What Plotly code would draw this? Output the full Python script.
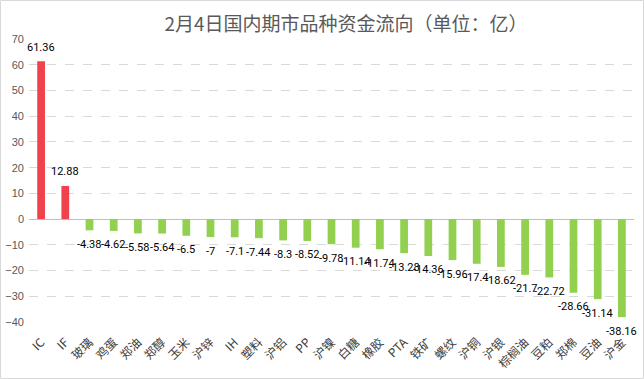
import plotly.graph_objects as go

categories = ["IC", "IF", "玻璃", "鸡蛋", "郑油", "郑醇", "玉米", "沪锌", "IH", "塑料",
              "沪铝", "PP", "沪镍", "白糖", "橡胶", "PTA", "铁矿", "螺纹", "沪铜", "沪银",
              "棕榈油", "豆粕", "郑棉", "豆油", "沪金"]
values = [61.36, 12.88, -4.38, -4.62, -5.58, -5.64, -6.5, -7, -7.1, -7.44,
          -8.3, -8.52, -9.78, -11.14, -11.74, -13.28, -14.36, -15.96, -17.4, -18.62,
          -21.7, -22.72, -28.66, -31.14, -38.16]
y_ticks = [-40, -30, -20, -10, 0, 10, 20, 30, 40, 50, 60, 70]

colors = ["#F0424B" if v > 0 else "#92D050" for v in values]
labels = [f"{v:g}" for v in values]

W, H = 644, 379
ml, mr, mt, mb = 29, 10, 39, 57
pw = W - ml - mr
ph = H - mt - mb

fig = go.Figure(go.Bar(
    x=categories, y=values, marker=dict(color=colors, line=dict(width=0)),
    width=0.32, cliponaxis=False,
))

annotations = [
    dict(x=c, y=v, text=t, showarrow=False, xanchor="center", yanchor="middle",
         yshift=14 if v > 0 else -14,
         font=dict(size=11, color="#000000", family="Roboto, sans-serif"))
    for c, v, t in zip(categories, values, labels)
]

fig.update_layout(
    width=W, height=H, margin=dict(l=ml, r=mr, t=mt, b=mb),
    paper_bgcolor="white", plot_bgcolor="white", showlegend=False,
    font=dict(family="Noto Sans CJK SC, sans-serif", color="#595959"),
    title=dict(text="2月4日国内期市品种资金流向（单位：亿）", x=(354 - ml) / pw, xanchor="center",
               y=1 - 24 / H, yanchor="middle",
               font=dict(size=19, color="#595959")),
    xaxis=dict(tickangle=-45, tickfont=dict(size=12, color="#404040"),
               range=[-0.5, len(categories) - 0.5],
               showgrid=False, showline=False, ticks="", automargin=False,
               ticklabelstandoff=10),
    yaxis=dict(range=[-40.05, 70.05], tickvals=y_ticks,
               tickfont=dict(size=11, color="#595959", family="Liberation Sans, Roboto, sans-serif"),
               showgrid=True, gridcolor="#D9D9D9", griddash="dash", gridwidth=1,
               zeroline=True, zerolinecolor="#BFBFBF", zerolinewidth=1,
               showline=False, ticks="", automargin=False, ticklabelstandoff=4),
    annotations=annotations,
    shapes=[dict(type="rect", xref="paper", yref="paper",
                 x0=-(ml - 0.5) / pw, x1=1 + (mr - 0.5) / pw,
                 y0=-(mb - 0.5) / ph, y1=1 + (mt - 0.5) / ph,
                 line=dict(color="#D9D9D9", width=1))],
)

fig.write_html("out.html", config={"displayModeBar": False},
               post_script="document.body.style.margin='0';document.body.style.padding='0';")
